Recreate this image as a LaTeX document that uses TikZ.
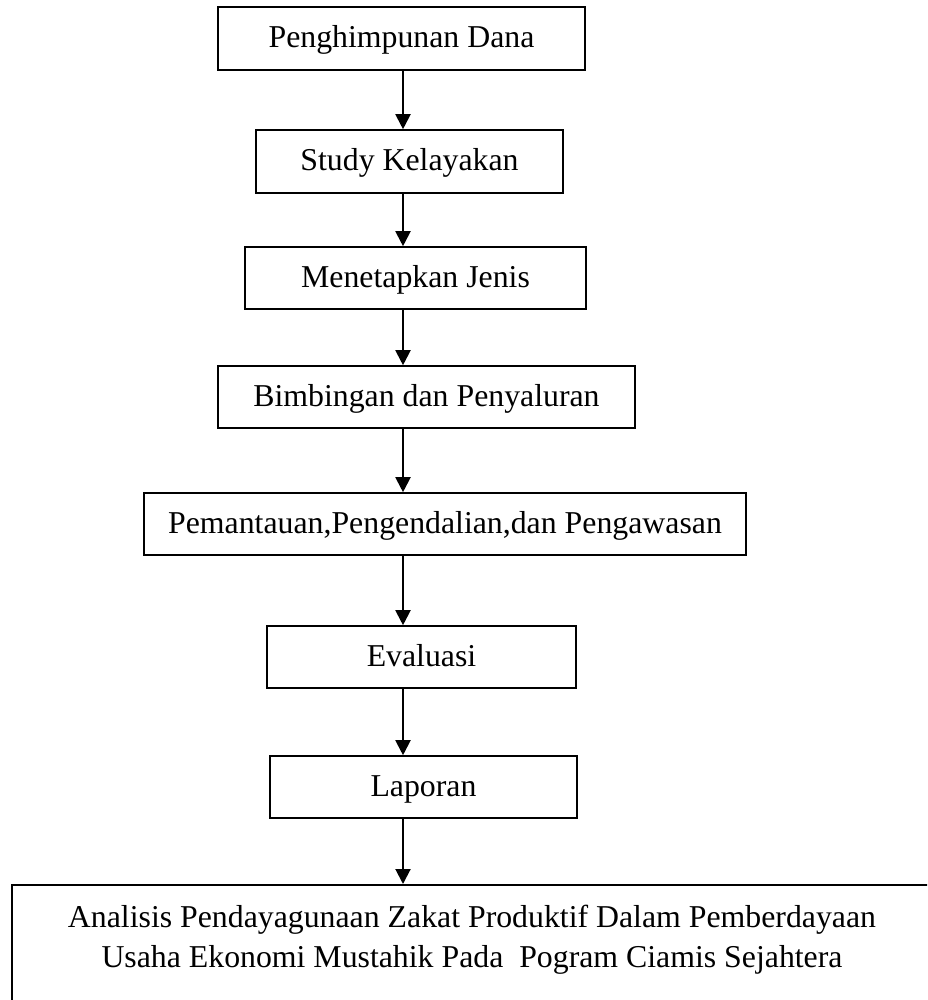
\documentclass[tikz,border=0pt]{standalone}
\usepackage{fontspec}
\setmainfont{Liberation Serif}
\usetikzlibrary{arrows.meta,calc}
\begin{document}
\begin{tikzpicture}[x=0.5pt,y=-0.5pt,
box/.style={draw,line width=0.8pt,inner sep=0pt,text height=12pt,text depth=2.5pt,font=\fontsize{15.9pt}{20pt}\selectfont},
arr/.style={-{Triangle[length=7.5pt,width=7.5pt]},line width=1pt}]
\useasboundingbox (0,0) rectangle (927,1000);
\clip (0,0) rectangle (927,1000);
\coordinate (ax) at (403,0);
\node[box,minimum width=183.5pt,minimum height=31.5pt](1) at (401.5,38.5){Penghimpunan Dana};
\node[box,minimum width=153.5pt,minimum height=31.5pt](2) at (409.5,161.5){Study Kelayakan};
\node[box,minimum width=170.5pt,minimum height=31pt](3) at (415.5,278){Menetapkan Jenis};
\node[box,minimum width=208.5pt,minimum height=31pt](4) at (426.5,397){Bimbingan dan Penyaluran};
\node[box,minimum width=301pt,minimum height=31pt](5) at (445,524){Pemantauan,Pengendalian,dan Pengawasan};
\node[box,minimum width=154.5pt,minimum height=31pt](6) at (421.5,657){Evaluasi};
\node[box,minimum width=153.5pt,minimum height=31pt](7) at (423.5,787){Laporan};
\node[box,minimum width=461pt,minimum height=70pt,anchor=north west](8) at (11,884){};
\node[align=center,font=\fontsize{15.9pt}{20pt}\selectfont](9) at (472,940){Analisis Pendayagunaan Zakat Produktif Dalam Pemberdayaan\\Usaha Ekonomi Mustahik Pada\ \ Pogram Ciamis Sejahtera};
\draw[arr] (1.south -| ax)--(2.north -| ax);
\draw[arr] (2.south -| ax)--(3.north -| ax);
\draw[arr] (3.south -| ax)--(4.north -| ax);
\draw[arr] (4.south -| ax)--(5.north -| ax);
\draw[arr] (5.south -| ax)--(6.north -| ax);
\draw[arr] (6.south -| ax)--(7.north -| ax);
\draw[arr] (7.south -| ax)--(8.north -| ax);
\end{tikzpicture}
\end{document}
